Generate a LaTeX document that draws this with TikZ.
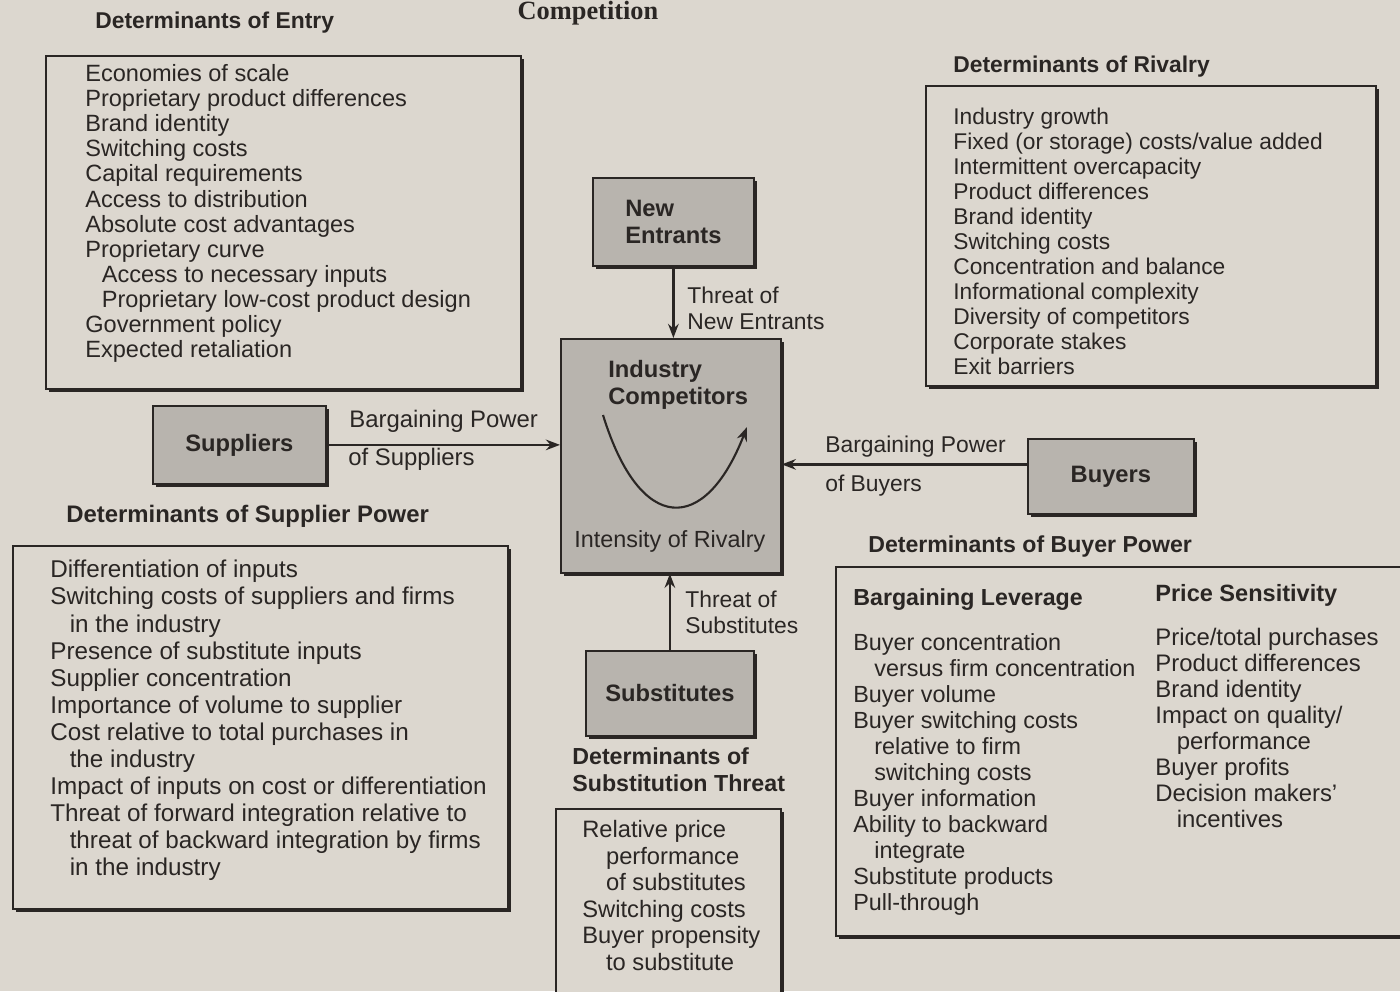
\documentclass[tikz,border=0pt]{standalone}
\usepackage{fontspec}
\setmainfont{Liberation Sans}
\newfontfamily\titleserif{Liberation Serif}
\usetikzlibrary{shadows,arrows.meta,calc}
\definecolor{paper}{HTML}{DCD7CF}
\definecolor{boxgray}{HTML}{B8B4AE}
\definecolor{ink}{HTML}{2A2624}
\begin{document}
\begin{tikzpicture}[x=0.2mm,y=-0.2mm,
  every node/.style={text=ink},
  txt/.style={anchor=north west, inner sep=0pt, align=left, font=\fontsize{13}{14.2}\selectfont},
  hd/.style={txt, font=\fontsize{13}{14.2}\selectfont\bfseries},
  detbox/.style={draw=ink, line width=1pt, fill=paper, anchor=north west, inner sep=0pt,
    drop shadow={shadow xshift=2pt, shadow yshift=-2pt, fill=ink, opacity=1}},
  forcebox/.style={detbox, fill=boxgray, align=left, font=\fontsize{13.5}{15.5}\selectfont\bfseries},
  arr/.style={draw=ink, line width=1.3pt, -{Stealth[length=8pt,width=6pt]}},
]
\fill[paper] (0,0) rectangle (1400,991);
\useasboundingbox (0,0) rectangle (1400,991);

% title (cut at the top in the reference)
\node[anchor=base, inner sep=0pt, font=\fontsize{15}{15}\titleserif\bfseries] (title) at (588,19) {Competition};

% ---------- Determinants of Entry ----------
\node[hd] (hentry) at (95,12) {Determinants of Entry};
\node[detbox, minimum width={475*0.2mm}, minimum height={333*0.2mm}] (entrybox) at (45,55) {};
\node[txt, font=\fontsize{13.4}{14.3}\selectfont] (entrylist) at (85,64) {%
Economies of scale\\
Proprietary product differences\\
Brand identity\\
Switching costs\\
Capital requirements\\
Access to distribution\\
Absolute cost advantages\\
Proprietary curve\\
\hspace*{0.7em}Access to necessary inputs\\
\hspace*{0.7em}Proprietary low-cost product design\\
Government policy\\
Expected retaliation};

% ---------- Determinants of Rivalry ----------
\node[hd] (hriv) at (953,56) {Determinants of Rivalry};
\node[detbox, minimum width={450*0.2mm}, minimum height={300*0.2mm}] (rivbox) at (925,85) {};
\node[txt, font=\fontsize{12.95}{14.2}\selectfont] (rivlist) at (953,108) {%
Industry growth\\
Fixed (or storage) costs/value added\\
Intermittent overcapacity\\
Product differences\\
Brand identity\\
Switching costs\\
Concentration and balance\\
Informational complexity\\
Diversity of competitors\\
Corporate stakes\\
Exit barriers};

% ---------- Forces ----------
\node[forcebox, minimum width={161*0.2mm}, minimum height={88*0.2mm}] (ent) at (592,177) {New\\Entrants};
\node[forcebox, minimum width={220*0.2mm}, minimum height={234*0.2mm}] (comp) at (560,338) {};
\node[txt, font=\fontsize{13.5}{15.5}\selectfont\bfseries] (comptitle) at (608,360) {Industry\\Competitors};
\node[txt, font=\fontsize{13.3}{14.2}\selectfont] (intens) at (574,530) {Intensity of Rivalry};
\node[forcebox, minimum width={173*0.2mm}, minimum height={78*0.2mm}] (sup) at (152,405) {Suppliers};
\node[forcebox, minimum width={166*0.2mm}, minimum height={75*0.2mm}] (buy) at (1027,438) {Buyers};
\node[forcebox, minimum width={168*0.2mm}, minimum height={85*0.2mm}] (subs) at (585,650) {Substitutes};

% rivalry curve
\coordinate (u1) at (603,415);
\coordinate (u2) at (747,427);
\draw[arr, line width=1.2pt] (u1) .. controls (640,535) and (705,535) .. (u2);

% connectors
\draw[arr] (ent.south) -- (ent.south |- comp.north);
\draw[arr] (subs.north) -- (subs.north |- comp.south);
\draw[arr] (sup.east) -- (sup.east -| comp.west);
\coordinate (bstart) at ($(buy.west)+(0,-12)$);
\draw[arr] (bstart) -- (bstart -| comp.east);

% connector labels
\node[txt, font=\fontsize{13}{14.8}\selectfont] (lnew) at (687,287) {Threat of\\New Entrants};
\node[txt, font=\fontsize{13.6}{14.2}\selectfont] (lsup1) at (349,410) {Bargaining Power};
\node[txt, font=\fontsize{13.6}{14.2}\selectfont] (lsup2) at (348,448) {of Suppliers};
\node[txt] (lbuy1) at (825,436) {Bargaining Power};
\node[txt] (lbuy2) at (825,475) {of Buyers};
\node[txt, font=\fontsize{13}{14.8}\selectfont] (lsubs) at (685,591) {Threat of\\Substitutes};

% ---------- Determinants of Supplier Power ----------
\node[hd, font=\fontsize{13.6}{14.2}\selectfont\bfseries] (hsup) at (66,505) {Determinants of Supplier Power};
\node[detbox, minimum width={495*0.2mm}, minimum height={363*0.2mm}] (supbox) at (12,545) {};
\node[txt, font=\fontsize{13.8}{15.4}\selectfont] (suplist) at (50,560) {%
Differentiation of inputs\\
Switching costs of suppliers and firms\\
\hspace*{0.8em}in the industry\\
Presence of substitute inputs\\
Supplier concentration\\
Importance of volume to supplier\\
Cost relative to total purchases in\\
\hspace*{0.8em}the industry\\
Impact of inputs on cost or differentiation\\
Threat of forward integration relative to\\
\hspace*{0.8em}threat of backward integration by firms\\
\hspace*{0.8em}in the industry};

% ---------- Determinants of Substitution Threat ----------
\node[hd, font=\fontsize{13.2}{15.8}\selectfont\bfseries] (hsubs) at (572,747) {Determinants of\\Substitution Threat};
\node[detbox, minimum width={225*0.2mm}, minimum height={200*0.2mm}] (subsbox) at (555,808) {};
\node[txt, font=\fontsize{13.5}{15.1}\selectfont] (subslist) at (582,820) {%
Relative price\\
\hspace*{1em}performance\\
\hspace*{1em}of substitutes\\
Switching costs\\
Buyer propensity\\
\hspace*{1em}to substitute};

% ---------- Determinants of Buyer Power ----------
\node[hd, font=\fontsize{13.15}{14.2}\selectfont\bfseries] (hbuy) at (868,535) {Determinants of Buyer Power};
\node[detbox, minimum width={600*0.2mm}, minimum height={369*0.2mm}] (buybox) at (835,566) {};
\node[hd, font=\fontsize{13.2}{14.2}\selectfont\bfseries] (hlev) at (853,588) {Bargaining Leverage};
\node[txt, font=\fontsize{13.3}{14.8}\selectfont] (levlist) at (853,633) {%
Buyer concentration\\
\hspace*{0.9em}versus firm concentration\\
Buyer volume\\
Buyer switching costs\\
\hspace*{0.9em}relative to firm\\
\hspace*{0.9em}switching costs\\
Buyer information\\
Ability to backward\\
\hspace*{0.9em}integrate\\
Substitute products\\
Pull-through};
\node[hd, font=\fontsize{13.4}{14.2}\selectfont\bfseries] (hprice) at (1155,584) {Price Sensitivity};
\node[txt, font=\fontsize{13.6}{14.8}\selectfont] (pricelist) at (1155,628) {%
Price/total purchases\\
Product differences\\
Brand identity\\
Impact on quality/\\
\hspace*{0.9em}performance\\
Buyer profits\\
Decision makers'\\
\hspace*{0.9em}incentives};
\end{tikzpicture}
\end{document}
